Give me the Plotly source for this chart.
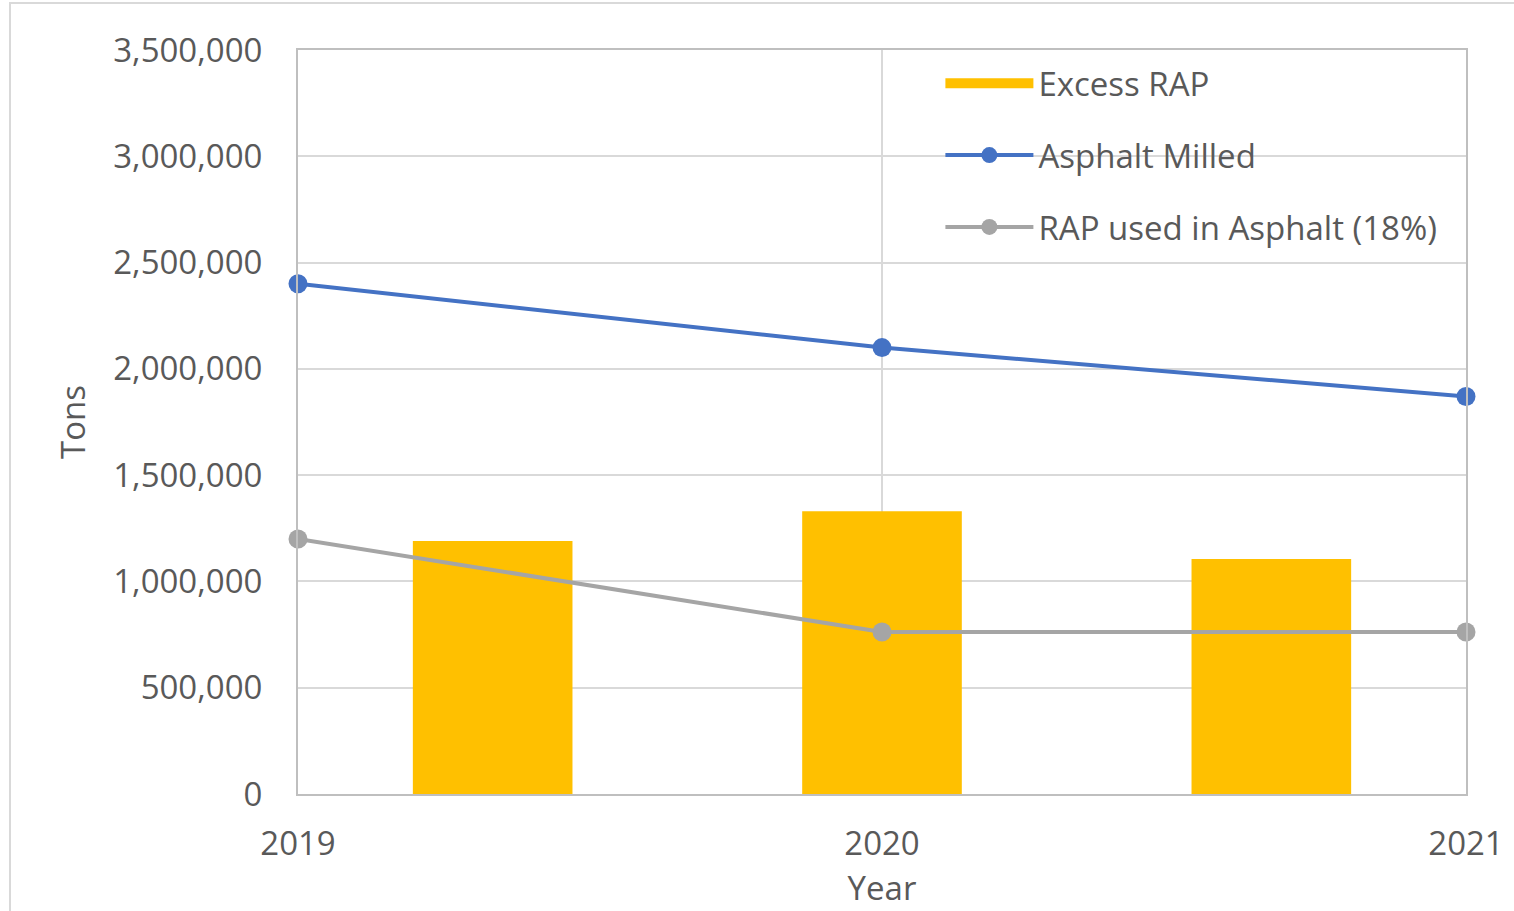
import plotly.graph_objects as go

# Tonnage by year
years = [2019, 2020, 2021]
year_labels = ["2019", "2020", "2021"]
excess_rap = [1190000, 1330000, 1105000]
asphalt_milled = [2400000, 2100000, 1870000]
rap_used = [1200000, 762000, 762000]
y_ticks = [0, 500000, 1000000, 1500000, 2000000, 2500000, 3000000, 3500000]

TEXT = "#595959"
FONT = "Open Sans"
FS = 33
GRID = "#d9d9d9"
BORDER = "#bfbfbf"

W, H = 1514, 911
L, R, T, B = 298, 48, 50, 117

fig = go.Figure()

# Bars sit in the middle of three equal category slots on the base x axis
fig.add_trace(go.Bar(
    x=year_labels, y=excess_rap, name="Excess RAP",
    marker=dict(color="#FFC000", line=dict(width=0)),
    width=0.41, xaxis="x", yaxis="y",
    legendgroup="a", showlegend=False,
))
# Legend entry for the bars drawn as a wide swatch
fig.add_trace(go.Scatter(
    x=[None], y=[None], mode="lines", name="Excess RAP",
    line=dict(color="#FFC000", width=19),
    xaxis="x2", yaxis="y", legendgroup="a", showlegend=True,
))
# Lines are plotted on a numeric year axis laid over the category axis
fig.add_trace(go.Scatter(
    x=years, y=asphalt_milled, name="Asphalt Milled", mode="lines+markers",
    line=dict(color="#4472C4", width=4),
    marker=dict(color="#4472C4", size=19),
    xaxis="x2", yaxis="y", legendgroup="b", cliponaxis=False,
))
fig.add_trace(go.Scatter(
    x=years, y=rap_used, name="RAP used in Asphalt (18%)", mode="lines+markers",
    line=dict(color="#A5A5A5", width=4),
    marker=dict(color="#A5A5A5", size=19),
    xaxis="x2", yaxis="y", legendgroup="c", cliponaxis=False,
))

fig.update_layout(
    width=W, height=H,
    margin=dict(l=L, r=R, t=T, b=B, autoexpand=False),
    paper_bgcolor="white", plot_bgcolor="white",
    font=dict(family=FONT, size=FS, color=TEXT),
    barmode="overlay",
    xaxis=dict(
        type="category", range=[-0.5, 2.5], visible=False, fixedrange=True,
    ),
    xaxis2=dict(
        overlaying="x", anchor="y", side="bottom",
        range=[2019, 2021], tickvals=years, ticktext=year_labels,
        showgrid=True, gridcolor=GRID, gridwidth=2,
        showline=True, mirror=True, linecolor=BORDER, linewidth=2,
        ticks="", ticklabelstandoff=19, zeroline=False,
        tickfont=dict(family=FONT, size=FS, color=TEXT),
        title=dict(text="Year", standoff=0,
                   font=dict(family=FONT, size=FS, color=TEXT)),
    ),
    yaxis=dict(
        range=[0, 3500000], tickvals=y_ticks, tickformat=",d",
        showgrid=True, gridcolor=GRID, gridwidth=2,
        showline=True, mirror=True, linecolor=BORDER, linewidth=2,
        ticks="", ticklabelstandoff=27, zeroline=False,
        tickfont=dict(family=FONT, size=FS, color=TEXT),
        title=dict(text="Tons", standoff=18,
                   font=dict(family=FONT, size=FS, color=TEXT)),
    ),
    legend=dict(
        x=0.55, y=0.993, xanchor="left", yanchor="top",
        bgcolor="rgba(0,0,0,0)", borderwidth=0,
        font=dict(family=FONT, size=FS, color=TEXT),
        itemwidth=88, tracegroupgap=26, traceorder="grouped",
    ),
    shapes=[dict(
        type="rect", xref="paper", yref="paper", layer="below",
        x0=(10 - L) / (W - L - R), x1=(1560 - L) / (W - L - R),
        y0=(H - B - 940) / (H - T - B), y1=(H - B - 3) / (H - T - B),
        line=dict(color=GRID, width=2), fillcolor="rgba(0,0,0,0)",
    )],
)

fig.write_html("out.html")
